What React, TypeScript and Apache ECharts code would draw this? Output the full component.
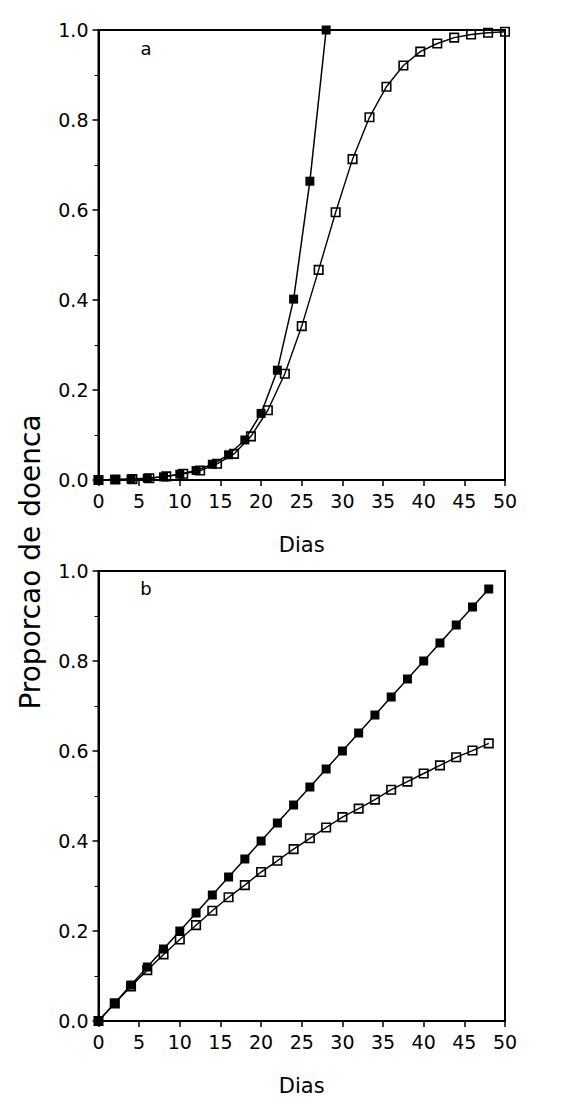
import React, { useEffect, useRef } from "react";
import * as echarts from "echarts";

// Panel a
const daysAFilled = [0, 2, 4, 6, 8, 10, 12, 14, 16, 18, 20, 22, 24, 26, 28];
const valuesAFilled = [0, 0.001, 0.002, 0.004, 0.007, 0.013, 0.021, 0.035, 0.056, 0.089, 0.148, 0.244, 0.402, 0.664, 1.0];
const daysAOpen = [0, 2.08, 4.17, 6.25, 8.33, 10.42, 12.5, 14.58, 16.67, 18.75, 20.83, 22.92, 25, 27.08, 29.17, 31.25, 33.33, 35.42, 37.5, 39.58, 41.67, 43.75, 45.83, 47.92, 50];
const valuesAOpen = [0, 0.001, 0.002, 0.004, 0.008, 0.014, 0.021, 0.036, 0.058, 0.097, 0.155, 0.236, 0.342, 0.467, 0.595, 0.713, 0.806, 0.874, 0.921, 0.952, 0.97, 0.983, 0.99, 0.994, 0.996];

// Panel b
const daysB = [0, 2, 4, 6, 8, 10, 12, 14, 16, 18, 20, 22, 24, 26, 28, 30, 32, 34, 36, 38, 40, 42, 44, 46, 48];
const valuesBFilled = [0, 0.04, 0.08, 0.12, 0.16, 0.2, 0.24, 0.28, 0.32, 0.36, 0.4, 0.44, 0.48, 0.52, 0.56, 0.6, 0.64, 0.68, 0.72, 0.76, 0.8, 0.84, 0.88, 0.92, 0.96];
const valuesBOpen = [0, 0.039, 0.077, 0.113, 0.148, 0.181, 0.213, 0.245, 0.275, 0.302, 0.331, 0.356, 0.382, 0.406, 0.43, 0.453, 0.472, 0.492, 0.514, 0.532, 0.55, 0.568, 0.586, 0.601, 0.617];

const xTitle = "Dias";
const yTitle = "Proporcao de doenca";
const panelLabels = ["a", "b"];

const FONT = "DejaVu Sans";

function zip(xs: number[], ys: number[]) {
  return xs.map((x, i) => [x, ys[i]]);
}

export default function App() {
  const ref = useRef<HTMLDivElement>(null);
  useEffect(() => {
    if (!ref.current) return;
    const chart = echarts.init(ref.current, null, { renderer: "svg" });
    const xAxisBase = (gridIndex: number) => ({
      type: "value",
      gridIndex,
      min: 0,
      max: 50,
      interval: 5,
      name: xTitle,
      nameLocation: "middle",
      nameGap: 54,
      nameTextStyle: { color: "#000", fontSize: 21, fontFamily: FONT },
      axisLine: { show: true, onZero: false, lineStyle: { color: "#000", width: 2 } },
      axisTick: { show: true, inside: false, length: 6, lineStyle: { color: "#000", width: 1.5 } },
      axisLabel: { color: "#000", fontSize: 19, fontFamily: FONT, margin: 11 },
      splitLine: { show: false },
    });
    const yAxisBase = (gridIndex: number) => ({
      type: "value",
      gridIndex,
      min: 0,
      max: 1,
      interval: 0.2,
      axisLine: { show: true, onZero: false, lineStyle: { color: "#000", width: 2 } },
      axisTick: { show: true, inside: false, length: 6, lineStyle: { color: "#000", width: 1.5 } },
      minorTick: { show: true, splitNumber: 2, length: 4, lineStyle: { color: "#000", width: 1 } },
      axisLabel: {
        color: "#000",
        fontSize: 19,
        fontFamily: FONT,
        margin: 10,
        formatter: (v: number) => v.toFixed(1),
      },
      splitLine: { show: false },
    });
    const filledStyle = {
      type: "line",
      symbol: "rect",
      symbolSize: 9,
      lineStyle: { color: "#000", width: 1.5 },
      itemStyle: { color: "#000", borderColor: "#000", borderWidth: 0 },
      z: 3,
    };
    const openStyle = {
      type: "line",
      symbol: "rect",
      symbolSize: 8.5,
      lineStyle: { color: "#000", width: 1.4 },
      itemStyle: { color: "rgba(255,255,255,0)", borderColor: "#000", borderWidth: 1.6 },
      z: 2,
    };
    chart.setOption({
      animation: false,
      backgroundColor: "#fff",
      grid: [
        { left: 98.5, top: 30, width: 406.5, height: 450, show: true, borderColor: "#000", borderWidth: 2, backgroundColor: "transparent" },
        { left: 98.5, top: 571, width: 406.5, height: 450, show: true, borderColor: "#000", borderWidth: 2, backgroundColor: "transparent" },
      ],
      xAxis: [xAxisBase(0), xAxisBase(1)],
      yAxis: [yAxisBase(0), yAxisBase(1)],
      series: [
        { ...openStyle, xAxisIndex: 0, yAxisIndex: 0, data: zip(daysAOpen, valuesAOpen) },
        { ...filledStyle, xAxisIndex: 0, yAxisIndex: 0, data: zip(daysAFilled, valuesAFilled) },
        { ...openStyle, xAxisIndex: 1, yAxisIndex: 1, data: zip(daysB, valuesBOpen) },
        { ...filledStyle, xAxisIndex: 1, yAxisIndex: 1, data: zip(daysB, valuesBFilled) },
      ],
      graphic: [
        {
          type: "text",
          x: 30,
          y: 562,
          rotation: Math.PI / 2,
          style: { text: yTitle, fontSize: 28, fontFamily: FONT, fill: "#000", textAlign: "center", textVerticalAlign: "middle" },
        },
        {
          type: "text",
          x: 146,
          y: 48,
          style: { text: panelLabels[0], fontSize: 18, fontFamily: FONT, fill: "#000", textAlign: "center", textVerticalAlign: "middle" },
        },
        {
          type: "text",
          x: 146,
          y: 588,
          style: { text: panelLabels[1], fontSize: 18, fontFamily: FONT, fill: "#000", textAlign: "center", textVerticalAlign: "middle" },
        },
      ],
    });
    return () => chart.dispose();
  }, []);
  return (
    <div
      ref={ref}
      style={{ position: "absolute", left: 0, top: 0, width: 578, height: 1097 }}
    />
  );
}
